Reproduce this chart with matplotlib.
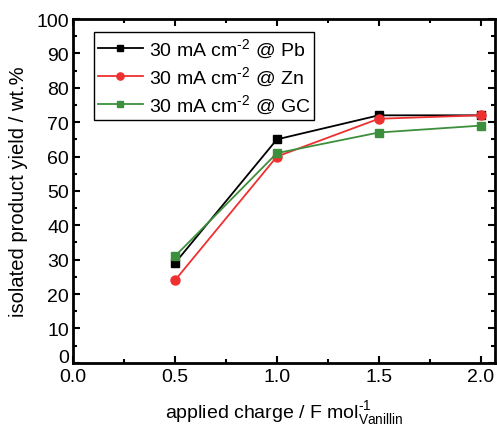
import matplotlib
matplotlib.use("Agg")
import matplotlib.pyplot as plt
import matplotlib.transforms as mtransforms
from matplotlib.ticker import MultipleLocator

plt.rcParams['font.family'] = ['Liberation Sans', 'DejaVu Sans']
plt.rcParams['mathtext.fontset'] = 'custom'
plt.rcParams['mathtext.rm'] = 'Liberation Sans'

charge = [0.5, 1.0, 1.5, 2.0]
yield_pb = [29, 65, 72, 72]
yield_zn = [24, 60, 71, 72]
yield_gc = [31, 61, 67, 69]

fig = plt.figure(figsize=(4.97, 4.27), dpi=100)
ax = fig.add_axes([0.147, 0.148, 0.849, 0.805])

ax.plot(charge, yield_pb, '-s', color='black', lw=1.3, ms=6, label=r'30 mA cm$^{\text{-2}}$ @ Pb')
ax.plot(charge, yield_zn, '-o', color='#ee3030', lw=1.3, ms=6.5, label=r'30 mA cm$^{\text{-2}}$ @ Zn')
ax.plot(charge, yield_gc, '-s', color='#3d8f3d', lw=1.3, ms=6, label=r'30 mA cm$^{\text{-2}}$ @ GC')

ax.set_xlim(0, 2.07)
ax.set_ylim(0, 100)
ax.xaxis.set_major_locator(MultipleLocator(0.5))
ax.xaxis.set_minor_locator(MultipleLocator(0.25))
ax.yaxis.set_major_locator(MultipleLocator(10))
ax.yaxis.set_minor_locator(MultipleLocator(5))
ax.tick_params(which='both', direction='in', top=True, right=True, width=1.5, labelsize=14)
ax.tick_params(which='major', length=5)
ax.tick_params(which='minor', length=3)
ax.tick_params(axis='x', pad=4)
ax.tick_params(axis='y', pad=3)
for s in ax.spines.values():
    s.set_linewidth(2)

ax.set_xlabel(r'applied charge / F mol$^{\text{-1}}_{\mathrm{Vanillin}}$', fontsize=14, labelpad=10)
ax.set_ylabel('isolated product yield / wt.%', fontsize=14.5, labelpad=6)

leg = ax.legend(loc='upper left', bbox_to_anchor=(0.05, 0.962), borderaxespad=0, fontsize=14,
                frameon=True, fancybox=False, edgecolor='black', framealpha=1,
                handlelength=2.3, borderpad=0.2, labelspacing=0.2, handletextpad=0.3,
                markerscale=0.8)
leg.get_frame().set_linewidth(1)

# lift the "0" on the y axis a little so it clears the "0.0" below it
fig.canvas.draw()
for tick in ax.yaxis.get_major_ticks():
    if tick.get_loc() == 0:
        lab = tick.label1
        lab.set_transform(lab.get_transform() + mtransforms.ScaledTranslation(0, 5 / 72, fig.dpi_scale_trans))

fig.savefig('out.png', dpi=100)
